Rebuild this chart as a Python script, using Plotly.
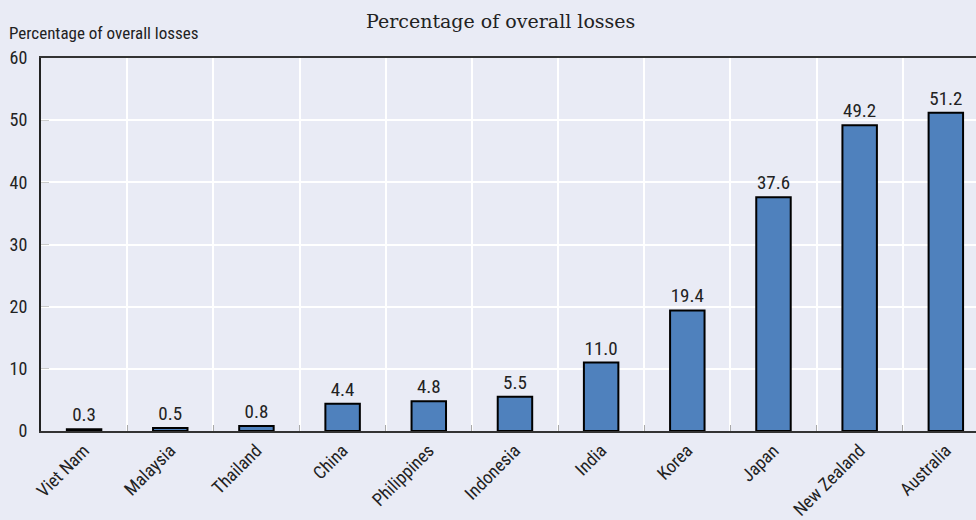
import plotly.graph_objects as go

# losses by country, percent of overall losses
countries = ["Viet Nam", "Malaysia", "Thailand", "China", "Philippines", "Indonesia",
             "India", "Korea", "Japan", "New Zealand", "Australia"]
share = [0.3, 0.5, 0.8, 4.4, 4.8, 5.5, 11.0, 19.4, 37.6, 49.2, 51.2]
y_ticks = [0, 10, 20, 30, 40, 50, 60]

bg = "#E9EBF5"
narrow = "Liberation Sans Narrow, Roboto Condensed, Arial Narrow, sans-serif"

fig = go.Figure()
fig.add_trace(go.Bar(
    x=countries, y=share, width=0.4,
    marker=dict(color="#4F81BD", line=dict(color="black", width=2)),
    text=[f"{v:.1f}" for v in share], textposition="outside",
    textfont=dict(family=narrow, size=19, color="#222"),
    cliponaxis=False,
))

fig.update_layout(
    width=976, height=520,
    paper_bgcolor=bg, plot_bgcolor=bg,
    margin=dict(l=41, r=0, t=58, b=87),
    showlegend=False,
    font=dict(family=narrow, color="#222"),
    title=dict(text="Percentage of overall losses", x=0.513, xanchor="center",
               y=0.972, yanchor="top",
               font=dict(family="DejaVu Serif, serif", size=19, color="#222")),
)
fig.add_annotation(text="Percentage of overall losses", xref="paper", yref="paper",
                   x=-0.036, y=1.035, xanchor="left", yanchor="bottom", showarrow=False,
                   font=dict(family=narrow, size=17, color="#222"))

fig.update_xaxes(
    range=[-0.5, 10.35], tickson="boundaries", ticks="inside", ticklen=6,
    tickcolor="#aaa", tickangle=-45, tickfont=dict(size=18),
    showgrid=True, gridcolor="white", gridwidth=1.5,
    showline=True, linecolor="#333", linewidth=2, mirror=True,
)
fig.update_yaxes(
    range=[0, 60], tickvals=y_ticks, ticks="inside", ticklen=8, tickcolor="#ccc",
    tickfont=dict(size=18), showgrid=True, gridcolor="white", gridwidth=1.5,
    showline=True, linecolor="#222", linewidth=2, zeroline=False, ticklabelstandoff=8,
)

fig.write_html("out.html", config={"displayModeBar": False},
               post_script="document.body.style.margin='0';")
